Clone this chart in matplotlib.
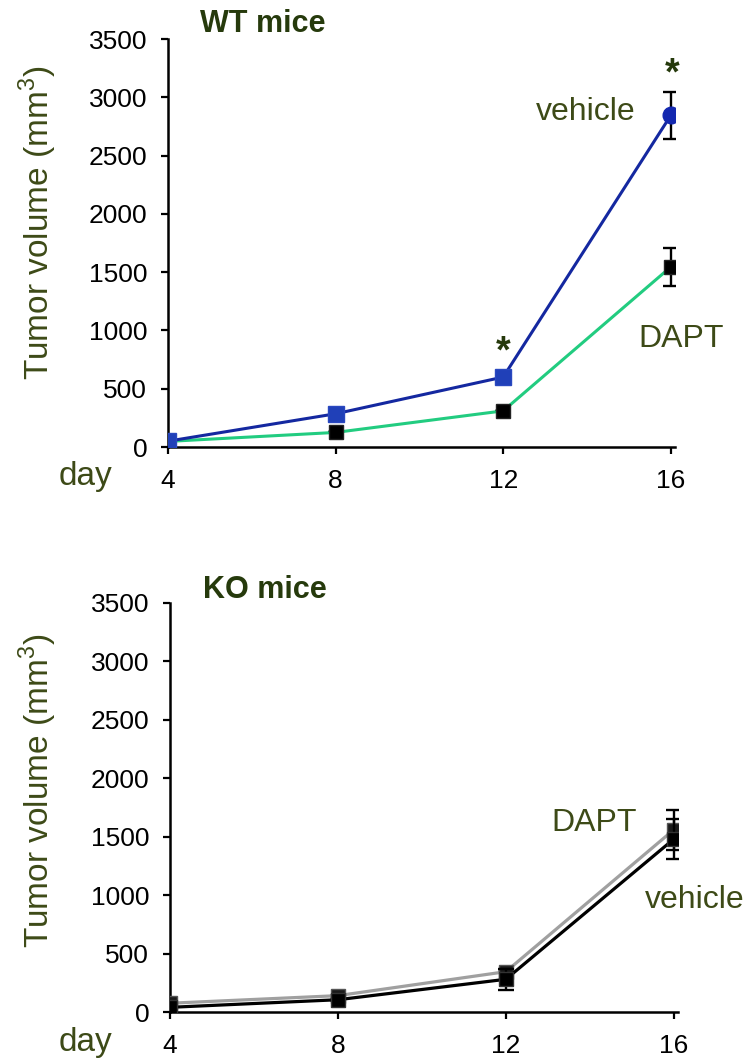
import matplotlib
matplotlib.use("Agg")
import matplotlib.pyplot as plt

plt.rcParams['font.family'] = ['Liberation Sans', 'DejaVu Sans']
plt.rcParams['mathtext.fontset'] = 'custom'
plt.rcParams['mathtext.rm'] = 'Liberation Sans'

# ---- data ----
days = [4, 8, 12, 16]
yticks = [0, 500, 1000, 1500, 2000, 2500, 3000, 3500]

wt_vehicle = [50, 285, 600, 2845]
wt_vehicle_err = [0, 0, 0, 202]
wt_dapt = [48, 125, 310, 1545]
wt_dapt_err = [0, 0, 0, 162]

ko_vehicle = [40, 105, 280, 1480]
ko_vehicle_err = [0, 0, 92, 170]
ko_dapt = [75, 140, 345, 1560]
ko_dapt_err = [0, 0, 0, 170]

TXT = '#3d4a17'
TITLE = '#263a0c'

fig = plt.figure(figsize=(7.45, 10.61), dpi=100)

def style_axes(ax):
    ax.set_xlim(4, 16.1)
    ax.set_ylim(0, 3500)
    ax.set_xticks(days)
    ax.set_yticks(yticks)
    for s in ['top', 'right']:
        ax.spines[s].set_visible(False)
    for s in ['left', 'bottom']:
        ax.spines[s].set_linewidth(1.8)
        ax.spines[s].set_color('black')
    ax.tick_params(axis='both', direction='out', length=5, width=1.6,
                   labelsize=19, colors='black')
    ax.tick_params(axis='y', pad=10)
    ax.tick_params(axis='x', pad=11)
    ax.set_facecolor('none')

# ---------- top panel: WT ----------
ax1 = fig.add_axes([168/745, 1-447/1061, 507/745, 408/1061])
style_axes(ax1)
ax1.errorbar(days, wt_dapt, yerr=wt_dapt_err, color='#22cc80', lw=2.2,
             marker='s', ms=10.5, mfc='black', mec='#222222',
             ecolor='black', elinewidth=1.7, capsize=6, capthick=1.7, zorder=3)
ax1.errorbar(days[:3], wt_vehicle[:3], color='#1428a0', lw=2.2,
             marker='s', ms=11, mfc='#2040b8', mec='#2a48c0', zorder=4)
ax1.plot(days[2:], wt_vehicle[2:], color='#1428a0', lw=2.2, zorder=4)
ax1.errorbar(days[3:], wt_vehicle[3:], yerr=wt_vehicle_err[3:], fmt='o',
             ms=12, mfc='#1428b0', mec='#1428b0',
             ecolor='black', elinewidth=1.7, capsize=6, capthick=1.7, zorder=5)
ax1.text(13.98, 2873, 'vehicle', fontsize=23, color=TXT, ha='center', va='center')
ax1.text(16.24, 926, 'DAPT', fontsize=23, color=TXT, ha='center', va='center',
         clip_on=False)
ax1.text(12, 815, '*', fontsize=27, fontweight='bold', color=TITLE,
         ha='center', va='center')
ax1.text(16.02, 3199, '*', fontsize=27, fontweight='bold', color=TITLE,
         ha='center', va='center', clip_on=False)

# ---------- bottom panel: KO ----------
ax2 = fig.add_axes([170/745, 1-1012/1061, 508/745, 409/1061])
style_axes(ax2)
ax2.errorbar(days, ko_dapt, yerr=ko_dapt_err, color='#a0a0a0', lw=2.3,
             marker='s', ms=10.5, mfc='#1a1a1a', mec='#555555',
             ecolor='black', elinewidth=1.7, capsize=6, capthick=1.7, zorder=3)
ax2.errorbar(days, ko_vehicle, yerr=ko_vehicle_err, color='black', lw=2.3,
             marker='s', ms=10.5, mfc='black', mec='#333333',
             ecolor='black', elinewidth=1.7, capsize=6, capthick=1.7, zorder=4)
ax2.text(14.1, 1617, 'DAPT', fontsize=23, color=TXT, ha='center', va='center')
ax2.text(16.5, 958, 'vehicle', fontsize=23, color=TXT, ha='center', va='center',
         clip_on=False)

# ---------- figure-level labels ----------
for (title, tx, ty, lab_y, day_y) in [('WT mice', 200, 24, 223, 477),
                                       ('KO mice', 203, 590, 791, 1043)]:
    fig.text(tx/745, 1-ty/1061, title, fontsize=22, fontweight='bold',
             color=TITLE, ha='left', va='center')
    fig.text(38/745, 1-lab_y/1061, r'Tumor volume (mm$^{3}$)', fontsize=24,
             color=TXT, rotation=90, ha='center', va='center')
    fig.text(85/745, 1-day_y/1061, 'day', fontsize=24, color=TXT,
             ha='center', va='center')

fig.savefig('out.png', dpi=100, facecolor='white')
